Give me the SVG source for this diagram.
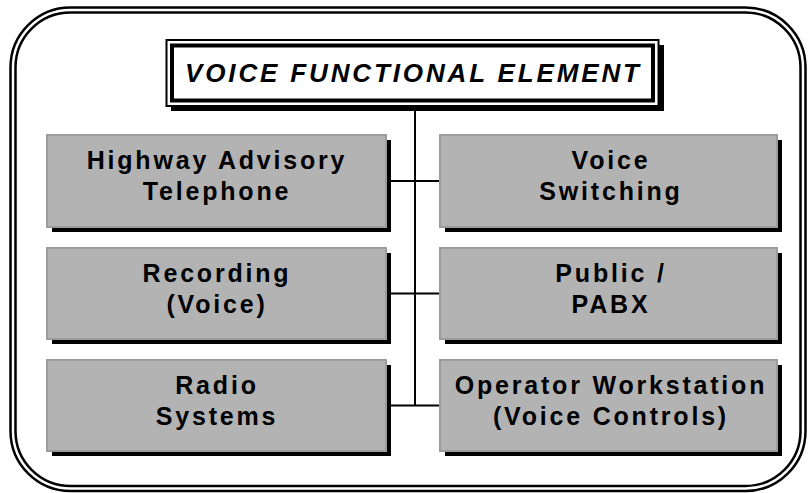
<svg xmlns="http://www.w3.org/2000/svg" width="808" height="493" viewBox="0 0 808 493">
  <style>
    .frame { fill: none; stroke: #000; stroke-width: 2.5; }
    .box { fill: #b3b3b3; stroke: #9c9c9c; stroke-width: 2; }
    .shadow { fill: #000; }
    .label { font-family: "Liberation Sans", Arial, sans-serif; font-weight: bold; font-size: 25px; letter-spacing: 2.8px; text-anchor: middle; fill: #000; }
    .title { font-family: "Liberation Sans", Arial, sans-serif; font-weight: bold; font-style: italic; font-size: 26px; text-anchor: middle; fill: #000; }
    .wire { stroke: #000; stroke-width: 2; fill: none; }
  </style>

  <rect width="808" height="493" fill="#fff"/>

  <!-- double-lined rounded outer frame -->
  <g id="frame">
    <rect class="frame" x="10.5" y="7.5" width="795" height="483.5" rx="60" ry="60"/>
    <rect class="frame" x="15.5" y="12.5" width="785" height="473.5" rx="55" ry="55" stroke-width="2"/>
  </g>

  <!-- connectors -->
  <g id="connectors">
    <line class="wire" x1="415" y1="106" x2="415" y2="406"/>
    <line class="wire" x1="386" y1="181" x2="440" y2="181"/>
    <line class="wire" x1="386" y1="293.5" x2="440" y2="293.5"/>
    <line class="wire" x1="386" y1="405.5" x2="440" y2="405.5"/>
  </g>

  <!-- title -->
  <g id="title">
    <rect class="shadow" x="171" y="45" width="493" height="66"/>
    <rect x="166.5" y="40" width="492" height="66" fill="#fff" stroke="#000" stroke-width="2"/>
    <rect x="172" y="45.5" width="481" height="55" fill="#fff" stroke="#000" stroke-width="4"/>
    <text class="title" x="412" y="82" textLength="454" lengthAdjust="spacing">VOICE FUNCTIONAL ELEMENT</text>
  </g>

  <g id="highway-advisory">
    <rect class="shadow" x="52" y="140" width="339" height="92"/>
    <rect class="box" x="47" y="135" width="339" height="92"/>
    <text class="label" x="217" y="169">Highway Advisory</text>
    <text class="label" x="217" y="200">Telephone</text>
  </g>

  <g id="voice-switching">
    <rect class="shadow" x="445" y="140" width="337" height="92"/>
    <rect class="box" x="440" y="135" width="337" height="92"/>
    <text class="label" x="611" y="169">Voice</text>
    <text class="label" x="611" y="200">Switching</text>
  </g>

  <g id="recording">
    <rect class="shadow" x="52" y="253" width="339" height="91"/>
    <rect class="box" x="47" y="248" width="339" height="91"/>
    <text class="label" x="217" y="282">Recording</text>
    <text class="label" x="217" y="313">(Voice)</text>
  </g>

  <g id="public-pabx">
    <rect class="shadow" x="445" y="253" width="337" height="91"/>
    <rect class="box" x="440" y="248" width="337" height="91"/>
    <text class="label" x="611" y="282">Public /</text>
    <text class="label" x="611" y="313">PABX</text>
  </g>

  <g id="radio-systems">
    <rect class="shadow" x="52" y="365" width="339" height="91"/>
    <rect class="box" x="47" y="360" width="339" height="91"/>
    <text class="label" x="217" y="394">Radio</text>
    <text class="label" x="217" y="425">Systems</text>
  </g>

  <g id="operator-workstation">
    <rect class="shadow" x="445" y="365" width="337" height="91"/>
    <rect class="box" x="440" y="360" width="337" height="91"/>
    <text class="label" x="611" y="394">Operator Workstation</text>
    <text class="label" x="611" y="425">(Voice Controls)</text>
  </g>
</svg>
